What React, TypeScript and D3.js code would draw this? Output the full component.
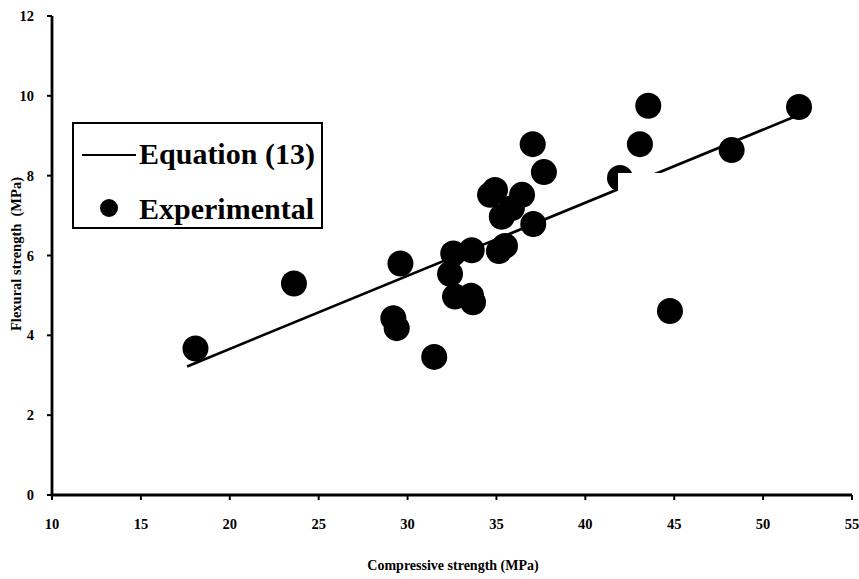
import React from "react";
import * as d3 from "d3";

// Experimental flexural vs. compressive strength (MPa)
const compressive = [
  18.07, 23.61, 29.6, 29.2, 29.39, 31.5, 32.57, 33.61, 32.39, 32.67, 33.57, 33.68,
  35.14, 35.48, 37.07, 34.64, 34.92, 36.44, 35.3, 35.87, 37.04, 37.67, 41.95, 43.07,
  43.54, 44.76, 48.23, 52.02,
];
const flexural = [
  3.67, 5.3, 5.8, 4.43, 4.18, 3.46, 6.05, 6.13, 5.54, 4.97, 4.99, 4.83,
  6.11, 6.24, 6.79, 7.52, 7.64, 7.52, 6.97, 7.19, 8.79, 8.09, 7.94, 8.79,
  9.75, 4.61, 8.64, 9.72,
];

// Equation (13) prediction line
const eqCompressive = [17.6, 52.0];
const eqFlexural = [3.22, 9.52];

const xTicks = [10, 15, 20, 25, 30, 35, 40, 45, 50, 55];
const yTicks = [0, 2, 4, 6, 8, 10, 12];

const W = 859;
const H = 579;
const FONT = "'Liberation Serif', 'Times New Roman', serif";

export default function App() {
  const x = d3.scaleLinear().domain([10, 55]).range([52, 852]);
  const y = d3.scaleLinear().domain([0, 12]).range([495, 16]);

  const line = d3
    .line<number>()
    .x((_, i) => x(eqCompressive[i]))
    .y((_, i) => y(eqFlexural[i]));

  const points = compressive.map((c, i) => ({ c, f: flexural[i] }));

  return (
    <svg
      width={W}
      height={H}
      style={{ position: "absolute", left: 0, top: 0, background: "#fff" }}
      fontFamily={FONT}
      fontWeight="bold"
    >
      <rect x={0} y={0} width={W} height={H} fill="#fff" />

      {/* prediction line */}
      <path d={line(eqCompressive) || ""} fill="none" stroke="#000" strokeWidth={2.6} />

      {/* measured points */}
      {points.map((p, i) => (
        <circle key={i} cx={x(p.c)} cy={y(p.f)} r={13} fill="#000" />
      ))}

      {/* blank label patch */}
      <rect x={618} y={173} width={90} height={40} fill="#fff" />

      {/* axes */}
      <line x1={x(10)} x2={x(10)} y1={y(12)} y2={y(0)} stroke="#000" strokeWidth={2.8} />
      <line x1={x(10) - 1.4} x2={x(55)} y1={y(0)} y2={y(0)} stroke="#000" strokeWidth={2.8} />

      {yTicks.map((t) => (
        <g key={"y" + t}>
          <line x1={x(10) - 5} x2={x(10)} y1={y(t)} y2={y(t)} stroke="#000" strokeWidth={2} />
          <text x={34} y={y(t)} dy="0.35em" textAnchor="end" fontSize={14.5}>
            {t}
          </text>
        </g>
      ))}

      {xTicks.map((t) => (
        <g key={"x" + t}>
          <line x1={x(t)} x2={x(t)} y1={y(0)} y2={y(0) + 5} stroke="#000" strokeWidth={2} />
          <text x={x(t)} y={529} textAnchor="middle" fontSize={14.5}>
            {t}
          </text>
        </g>
      ))}

      <text x={453} y={570} textAnchor="middle" fontSize={14}>
        Compressive strength (MPa)
      </text>
      <text
        transform="translate(21,254) rotate(-90)"
        textAnchor="middle"
        fontSize={14.5}
        style={{ whiteSpace: "pre" }}
      >
        {"Flexural strength  (MPa)"}
      </text>

      {/* legend */}
      <rect x={73} y={123} width={249} height={105} fill="#fff" stroke="#000" strokeWidth={2} />
      <line x1={82} x2={136} y1={155} y2={155} stroke="#000" strokeWidth={2} />
      <text x={139} y={164} fontSize={30}>
        Equation (13)
      </text>
      <circle cx={109} cy={208} r={9} fill="#000" />
      <text x={139} y={219} fontSize={30}>
        Experimental
      </text>
    </svg>
  );
}
